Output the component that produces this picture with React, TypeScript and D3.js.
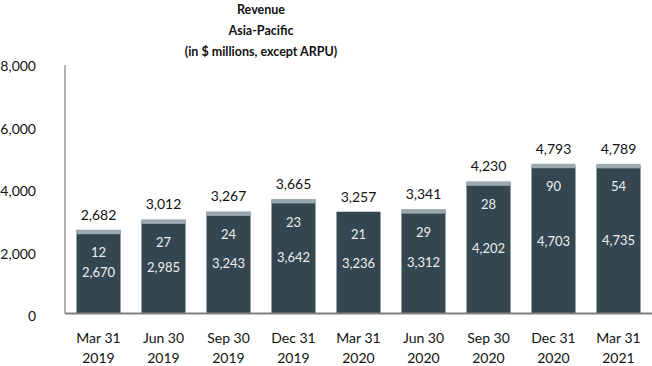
import React, { useEffect, useRef } from 'react';
import * as d3 from 'd3';

const quarters = ['Mar 31|2019', 'Jun 30|2019', 'Sep 30|2019', 'Dec 31|2019', 'Mar 31|2020', 'Jun 30|2020', 'Sep 30|2020', 'Dec 31|2020', 'Mar 31|2021'];
const baseRevenue = [2670, 2985, 3243, 3642, 3236, 3312, 4202, 4703, 4735];
const otherRevenue = [12, 27, 24, 23, 21, 29, 28, 90, 54];
const totalRevenue = [2682, 3012, 3267, 3665, 3257, 3341, 4230, 4793, 4789];
// the source chart shows no light cap on this quarter
const capHidden = ['Mar 31|2020'];
const yTicks = [0, 2000, 4000, 6000, 8000];
const titleLines = ['Revenue', 'Asia-Pacific', '(in $ millions, except ARPU)'];

const App: React.FC = () => {
  const ref = useRef<SVGSVGElement | null>(null);

  useEffect(() => {
    const width = 652;
    const height = 366;
    const font = 'Lato, "Open Sans", sans-serif';
    const fmt = d3.format(',d');

    const svg = d3.select(ref.current)
      .attr('width', width)
      .attr('height', height)
      .style('font-family', font);
    svg.selectAll('*').remove();

    const x = d3.scaleBand<string>()
      .domain(quarters)
      .range([66, 651])
      .paddingInner(0.323)
      .paddingOuter(0.1615);

    const y = d3.scaleLinear().domain([0, 8000]).range([313.5, 63.5]);

    // title
    svg.append('g')
      .selectAll('text')
      .data(titleLines)
      .join('text')
        .attr('x', 261)
        .attr('y', (d, i) => 10 + i * 21)
        .attr('dy', '0.35em')
        .attr('text-anchor', 'middle')
        .attr('font-weight', 'bold')
        .attr('font-size', 12.5)
        .attr('fill', '#111')
        .text(d => d);

    // y labels
    svg.append('g')
      .selectAll('text')
      .data(yTicks)
      .join('text')
        .attr('x', 36)
        .attr('y', d => y(d) + 3)
        .attr('dy', '0.35em')
        .attr('text-anchor', 'end')
        .attr('font-size', 14)
        .attr('fill', '#111')
        .text(d => fmt(d));

    // axis lines
    svg.append('line')
      .attr('x1', 65).attr('x2', 65)
      .attr('y1', 65).attr('y2', y(0))
      .attr('stroke', '#9a9a9a').attr('stroke-width', 1.5);

    const bars = svg.append('g')
      .selectAll('g')
      .data(quarters.map((q, i) => ({ q, base: baseRevenue[i], other: otherRevenue[i], total: totalRevenue[i] })))
      .join('g');

    bars.append('rect')
      .attr('x', d => x(d.q)!)
      .attr('width', x.bandwidth())
      .attr('y', d => capHidden.includes(d.q) ? y(d.total) : y(d.base))
      .attr('height', d => y(0) - (capHidden.includes(d.q) ? y(d.total) : y(d.base)))
      .attr('fill', '#344751');

    bars.filter(d => !capHidden.includes(d.q)).append('rect')
      .attr('x', d => x(d.q)!)
      .attr('width', x.bandwidth())
      .attr('y', d => y(d.total))
      .attr('height', d => Math.max(4.5, y(d.base) - y(d.total)))
      .attr('fill', '#9aa8b0');

    // total labels
    bars.append('text')
      .attr('x', d => x(d.q)! + x.bandwidth() / 2)
      .attr('y', d => y(d.total) - 15)
      .attr('dy', '0.35em')
      .attr('text-anchor', 'middle')
      .attr('font-size', 14)
      .attr('fill', '#111')
      .text(d => fmt(d.total));

    // other segment labels
    bars.append('text')
      .attr('x', d => x(d.q)! + x.bandwidth() / 2)
      .attr('y', d => y(d.total) + 23)
      .attr('dy', '0.35em')
      .attr('text-anchor', 'middle')
      .attr('font-size', 13)
      .attr('fill', '#eeeeee')
      .text(d => fmt(d.other));

    // base segment labels
    bars.append('text')
      .attr('x', d => x(d.q)! + x.bandwidth() / 2)
      .attr('y', d => (y(d.base) + y(0)) / 2 + 1)
      .attr('dy', '0.35em')
      .attr('text-anchor', 'middle')
      .attr('font-size', 13)
      .attr('fill', '#eeeeee')
      .text(d => fmt(d.base));

    svg.append('line')
      .attr('x1', 65).attr('x2', width)
      .attr('y1', y(0)).attr('y2', y(0))
      .attr('stroke', '#808080').attr('stroke-width', 2);

    // x labels
    const xl = svg.append('g')
      .selectAll('text')
      .data(quarters)
      .join('text')
        .attr('text-anchor', 'middle')
        .attr('font-size', 14)
        .attr('fill', '#111');
    xl.selectAll('tspan')
      .data(d => d.split('|').map(t => ({ t, cx: x(d)! + x.bandwidth() / 2 })))
      .join('tspan')
        .attr('x', d => d.cx)
        .attr('y', (d, i) => (i === 0 ? 338 : 358))
        .attr('dy', '0.35em')
        .text(d => d.t);
  }, []);

  return (
    <svg ref={ref} style={{ position: 'absolute', left: 0, top: 0 }}></svg>
  );
};

export default App;
